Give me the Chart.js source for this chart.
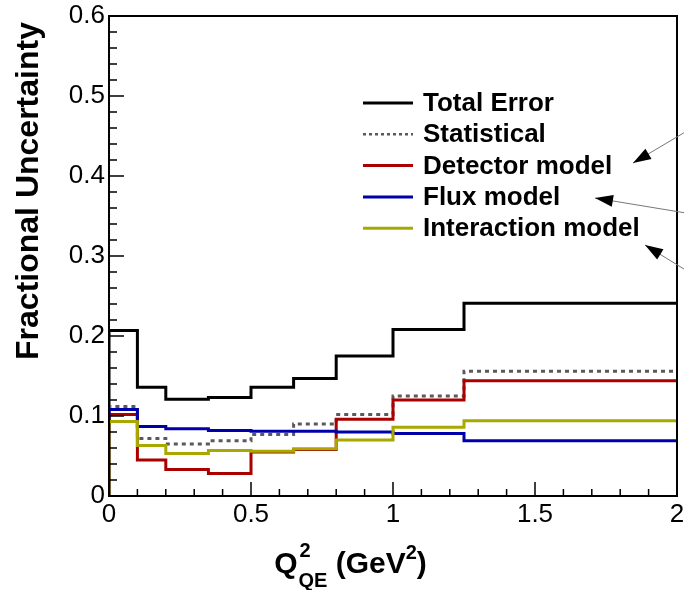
<!DOCTYPE html>
<html>
<head>
<meta charset="utf-8">
<script src="https://cdn.jsdelivr.net/npm/chart.js@4"></script>
<style>
    body { margin: 0; background: #ffffff; }
    canvas { display: block; }
</style>
</head>
<body>
<canvas id="myChart" width="684" height="590"></canvas>
<script>
const binEdges = [0, 0.1, 0.2, 0.35, 0.5, 0.65, 0.8, 1.0, 1.25, 2.0];

const totalError = [0.207, 0.136, 0.121, 0.123, 0.136, 0.147, 0.175, 0.208, 0.241];
const statistical = [0.112, 0.072, 0.065, 0.069, 0.077, 0.090, 0.102, 0.125, 0.156];
const detectorModel = [0.102, 0.045, 0.033, 0.028, 0.055, 0.058, 0.096, 0.120, 0.144];
const fluxModel = [0.108, 0.087, 0.084, 0.082, 0.081, 0.081, 0.080, 0.078, 0.069];
const interactionModel = [0.093, 0.063, 0.053, 0.057, 0.056, 0.059, 0.070, 0.086, 0.094];

const seriesNames = ["Total Error", "Statistical", "Detector model", "Flux model", "Interaction model"];

const xTicks = [0, 0.5, 1, 1.5, 2];
const yTicks = [0, 0.1, 0.2, 0.3, 0.4, 0.5, 0.6];

const FONT = "'Liberation Sans', Arial, Helvetica, sans-serif";

function histPoints(values) {
    // start from zero at the left edge, like ROOT does
    let pts = [{x: binEdges[0], y: 0}];
    for (let i = 0; i < values.length; i++) {
        pts.push({x: binEdges[i], y: values[i]});
    }
    pts.push({x: binEdges[binEdges.length - 1], y: values[values.length - 1]});
    return pts;
}

const styles = [
    {color: "#000000", dash: []},
    {color: "#5a5a5a", dash: [4, 4]},
    {color: "#aa0000", dash: []},
    {color: "#0000aa", dash: []},
    {color: "#a8a800", dash: []}
];
const allSeries = [totalError, statistical, detectorModel, fluxModel, interactionModel];

const datasets = allSeries.map((values, i) => ({
    label: seriesNames[i],
    data: histPoints(values),
    borderColor: styles[i].color,
    borderDash: styles[i].dash,
    borderWidth: 3,
    pointRadius: 0,
    stepped: "before",
    fill: false,
    order: allSeries.length - i
}));

const framePlugin = {
    id: "frame",
    afterDatasetsDraw(chart) {
        const ctx = chart.ctx;
        const a = chart.chartArea;
        const xs = chart.scales.x;
        const ys = chart.scales.y;

        ctx.save();
        ctx.strokeStyle = "#000";
        ctx.lineWidth = 2;
        ctx.strokeRect(a.left, a.top, a.right - a.left, a.bottom - a.top);

        // tick marks inside the frame
        ctx.lineWidth = 1.5;
        ctx.beginPath();
        for (let i = 0; i <= 20; i++) {
            const v = i * 0.1;
            const px = xs.getPixelForValue(v);
            const len = (i % 5 === 0) ? 14 : 7;
            ctx.moveTo(px, a.bottom);
            ctx.lineTo(px, a.bottom - len);
        }
        for (let i = 0; i <= 30; i++) {
            const v = i * 0.02;
            const py = ys.getPixelForValue(v);
            const len = (i % 5 === 0) ? 15 : 8;
            ctx.moveTo(a.left, py);
            ctx.lineTo(a.left + len, py);
        }
        ctx.stroke();
        ctx.restore();
    },
    afterDraw(chart) {
        const ctx = chart.ctx;
        ctx.save();

        // legend
        const lx0 = 363, lx1 = 413, tx = 423;
        let ly = 103;
        ctx.font = "bold 26px " + FONT;
        ctx.textBaseline = "middle";
        ctx.textAlign = "left";
        for (let i = 0; i < seriesNames.length; i++) {
            ctx.beginPath();
            ctx.strokeStyle = styles[i].color;
            ctx.lineWidth = i === 1 ? 2.5 : 3;
            ctx.setLineDash(i === 1 ? [3, 3] : []);
            ctx.moveTo(lx0, ly);
            ctx.lineTo(lx1, ly);
            ctx.stroke();
            ctx.setLineDash([]);
            ctx.fillStyle = "#000";
            ctx.fillText(seriesNames[i], tx, ly + 1);
            ly += 31.3;
        }

        // arrows pointing in from the right
        const arrows = [
            [[692, 128], [633, 163]],
            [[692, 214], [595, 198]],
            [[692, 274], [645, 245]]
        ];
        arrows.forEach(([from, to]) => {
            const ang = Math.atan2(to[1] - from[1], to[0] - from[0]);
            ctx.beginPath();
            ctx.strokeStyle = "#777";
            ctx.lineWidth = 1;
            ctx.moveTo(from[0], from[1]);
            ctx.lineTo(to[0], to[1]);
            ctx.stroke();
            const hl = 18, hw = 6;
            ctx.beginPath();
            ctx.fillStyle = "#000";
            ctx.moveTo(to[0], to[1]);
            ctx.lineTo(to[0] - hl * Math.cos(ang) + hw * Math.sin(ang), to[1] - hl * Math.sin(ang) - hw * Math.cos(ang));
            ctx.lineTo(to[0] - hl * Math.cos(ang) - hw * Math.sin(ang), to[1] - hl * Math.sin(ang) + hw * Math.cos(ang));
            ctx.closePath();
            ctx.fill();
        });

        // y title
        ctx.save();
        ctx.translate(38, 191);
        ctx.rotate(-Math.PI / 2);
        ctx.font = "bold 32px " + FONT;
        ctx.textAlign = "center";
        ctx.textBaseline = "alphabetic";
        ctx.fillStyle = "#000";
        ctx.fillText("Fractional Uncertainty", 0, 0);
        ctx.restore();

        // x title: Q^2_QE (GeV^2)
        const big = "bold 30px " + FONT;
        const small = "bold 20px " + FONT;
        ctx.fillStyle = "#000";
        ctx.textBaseline = "alphabetic";
        ctx.textAlign = "left";
        ctx.font = big;
        const wQ = ctx.measureText("Q").width;
        const wRest = ctx.measureText(" (GeV").width;
        const wClose = ctx.measureText(")").width;
        ctx.font = small;
        const wSub = ctx.measureText("QE").width;
        const wSup = ctx.measureText("2").width;
        const total = wQ + wSub + wRest + wSup + wClose;
        let x = 350 - total / 2;
        const base = 573;
        ctx.font = big;
        ctx.fillText("Q", x, base);
        x += wQ + 1;
        ctx.font = small;
        ctx.fillText("2", x + 1, base - 16);
        ctx.fillText("QE", x, base + 14);
        x += wSub;
        ctx.font = big;
        ctx.fillText(" (GeV", x, base);
        x += wRest;
        ctx.font = small;
        ctx.fillText("2", x, base - 14);
        x += wSup;
        ctx.font = big;
        ctx.fillText(")", x, base);

        ctx.restore();
    }
};

new Chart("myChart", {
    type: "line",
    data: {
        datasets: datasets
    },
    options: {
        responsive: false,
        animation: false,
        layout: {
            padding: {top: 16, right: 7, left: 0, bottom: 0}
        },
        scales: {
            x: {
                type: "linear",
                min: 0,
                max: 2,
                afterBuildTicks: (scale) => {
                    scale.ticks = xTicks.map(v => ({value: v}));
                },
                afterFit: (scale) => {
                    scale.height = 94;
                    scale.paddingLeft = 0;
                    scale.paddingRight = 0;
                },
                grid: {display: false, drawTicks: false},
                border: {display: false},
                ticks: {
                    color: "#000",
                    padding: 3,
                    maxRotation: 0,
                    font: {size: 26, family: FONT},
                    callback: (v) => String(v)
                }
            },
            y: {
                min: 0,
                max: 0.6,
                afterBuildTicks: (scale) => {
                    scale.ticks = yTicks.map(v => ({value: v}));
                },
                afterFit: (scale) => {
                    scale.width = 109;
                    scale.paddingTop = 0;
                    scale.paddingBottom = 0;
                },
                grid: {display: false, drawTicks: false},
                border: {display: false},
                ticks: {
                    color: "#000",
                    padding: 4,
                    font: {size: 26, family: FONT},
                    callback: (v) => String(Number(v.toFixed(1)))
                }
            }
        },
        plugins: {
            legend: {display: false},
            tooltip: {enabled: false}
        }
    },
    plugins: [framePlugin]
});
</script>
</body>
</html>
